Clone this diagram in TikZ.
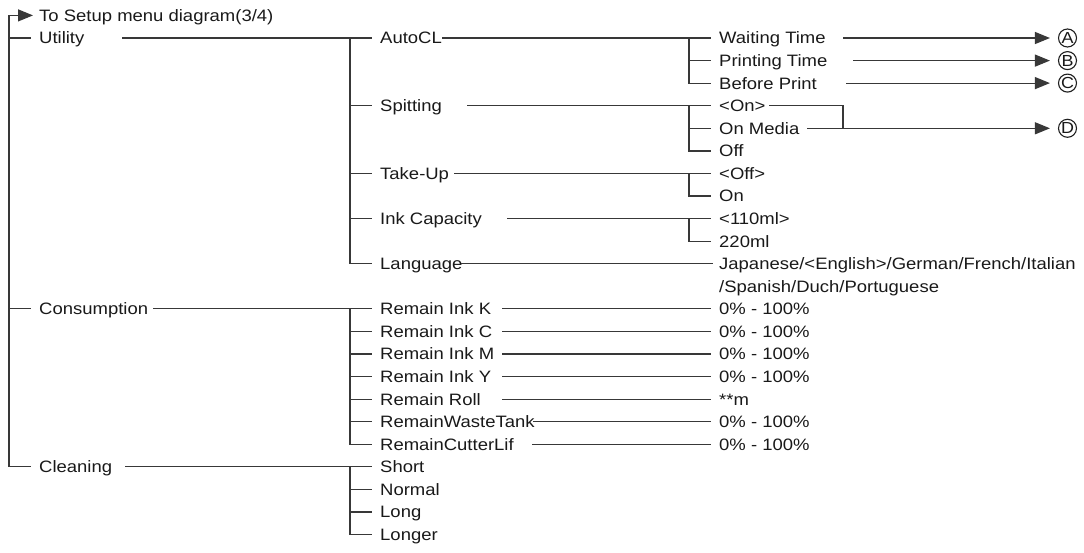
\documentclass[tikz,border=0pt]{standalone}
\usepackage{fontspec}
\setmainfont{Liberation Sans}[FakeStretch=1.12]
\usetikzlibrary{arrows.meta}
\begin{document}
\begin{tikzpicture}[x=1pt,y=-1pt,
  lbl/.style={inner sep=0pt, text height=11.8pt, text depth=0pt, anchor=west, text=black!90,
    font=\fontsize{16.5}{19}\selectfont},
  ln/.style={line width=1.2pt, draw=black!78},
  tick/.style={ln, shorten >=8pt},
  arr/.style={ln, -{Triangle[length=15pt,width=12pt]}, shorten >=8pt},
  circ/.style={circle, draw=black!88, line width=1.1pt, minimum size=18pt, inner sep=0pt,
    text=black!90, font=\fontsize{16}{16}\selectfont}]
\useasboundingbox (0,0) rectangle (1084,552);
% ---------- nodes: level 1
\node[lbl] (tosetup) at (39,15.4) {To Setup menu diagram(3/4)};
\node[lbl] (utility) at (39,38) {Utility};
\node[lbl] (consumption) at (39,308.8) {Consumption};
\node[lbl] (cleaning) at (39,466.8) {Cleaning};
% ---------- level 2
\node[lbl] (autocl) at (380,38) {AutoCL};
\node[lbl] (spitting) at (380,105.7) {Spitting};
\node[lbl] (takeup) at (380,173.4) {Take-Up};
\node[lbl] (inkcap) at (380,218.6) {Ink Capacity};
\node[lbl] (language) at (380,263.7) {Language};
\node[lbl] (rik) at (380,308.8) {Remain Ink K};
\node[lbl] (ric) at (380,331.4) {Remain Ink C};
\node[lbl] (rim) at (380,354) {Remain Ink M};
\node[lbl] (riy) at (380,376.6) {Remain Ink Y};
\node[lbl] (rroll) at (380,399.1) {Remain Roll};
\node[lbl] (rwaste) at (380,421.7) {RemainWasteTank};
\node[lbl] (rcutter) at (380,444.3) {RemainCutterLif};
\node[lbl] (short) at (380,466.8) {Short};
\node[lbl] (normal) at (380,489.4) {Normal};
\node[lbl] (long) at (380,512) {Long};
\node[lbl] (longer) at (380,534.5) {Longer};
% ---------- level 3
\node[lbl] (wait) at (719,38) {Waiting Time};
\node[lbl] (print) at (719,60.6) {Printing Time};
\node[lbl] (before) at (719,83.1) {Before Print};
\node[lbl] (on) at (719,105.7) {<On>};
\node[lbl] (onmedia) at (719,128.3) {On Media};
\node[lbl] (off) at (719,150.9) {Off};
\node[lbl] (offd) at (719,173.4) {<Off>};
\node[lbl] (onv) at (719,196) {On};
\node[lbl] (ml110) at (719,218.6) {<110ml>};
\node[lbl] (ml220) at (719,241.1) {220ml};
\node[lbl] (lang1) at (719,263.7) {Japanese/<English>/German/French/Italian};
\node[lbl] (lang2) at (719,286.3) {/Spanish/Duch/Portuguese};
\node[lbl] (v1) at (719,308.8) {0\% - 100\%};
\node[lbl] (v2) at (719,331.4) {0\% - 100\%};
\node[lbl] (v3) at (719,354) {0\% - 100\%};
\node[lbl] (v4) at (719,376.6) {0\% - 100\%};
\node[lbl] (v5) at (719,399.1) {**m};
\node[lbl] (v6) at (719,421.7) {0\% - 100\%};
\node[lbl] (v7) at (719,444.3) {0\% - 100\%};
% ---------- circled references
\node[circ] (cA) at (1067.5,38) {A};
\node[circ] (cB) at (1067.5,60.6) {B};
\node[circ] (cC) at (1067.5,83.1) {C};
\node[circ] (cD) at (1067.5,128.3) {D};
% ---------- coordinates
\coordinate (b0) at (9,15.4);
\coordinate (s-util) at (122,38);
\coordinate (j-util) at (350,38);
\coordinate (s-cons) at (153,308.8);
\coordinate (j-cons) at (350,308.8);
\coordinate (s-clean) at (125,466.8);
\coordinate (j-clean) at (350,466.8);
\coordinate (s-auto) at (442,38);
\coordinate (j-auto) at (689,38);
\coordinate (s-spit) at (467,105.7);
\coordinate (j-spit) at (689,105.7);
\coordinate (s-take) at (454,173.4);
\coordinate (j-take) at (689,173.4);
\coordinate (s-ink) at (507,218.6);
\coordinate (j-ink) at (689,218.6);
\coordinate (s-lang) at (461,263.7);
\coordinate (s-wait) at (843,38);
\coordinate (s-print) at (853,60.6);
\coordinate (s-before) at (846,83.1);
\coordinate (s-on) at (769,105.7);
\coordinate (k-on) at (843,128.3);
\coordinate (s-onm) at (807,128.3);
% ---------- level 1 bus
\draw[arr, shorten >=6pt] (b0) -- (tosetup.west);
\draw[tick] (b0) |- (cleaning.west);
\draw[tick] (b0 |- utility.west) -- (utility.west);
\draw[tick] (b0 |- consumption.west) -- (consumption.west);
% ---------- Utility
\draw[tick] (s-util) -- (autocl.west);
\draw[tick] (j-util) |- (language.west);
\foreach \n in {spitting,takeup,inkcap}
  \draw[tick] (j-util |- \n.west) -- (\n.west);
% AutoCL
\draw[tick] (s-auto) -- (wait.west);
\draw[tick] (j-auto) |- (before.west);
\draw[tick] (j-auto |- print.west) -- (print.west);
\draw[arr] (s-wait) -- (cA.west);
\draw[arr] (s-print) -- (cB.west);
\draw[arr] (s-before) -- (cC.west);
% Spitting
\draw[tick] (s-spit) -- (on.west);
\draw[tick] (j-spit) |- (off.west);
\draw[tick] (j-spit |- onmedia.west) -- (onmedia.west);
\draw[ln] (s-on) -| (k-on);
\draw[arr] (s-onm) -- (cD.west);
% Take-Up
\draw[tick] (s-take) -- (offd.west);
\draw[tick] (j-take) |- (onv.west);
% Ink capacity
\draw[tick] (s-ink) -- (ml110.west);
\draw[tick] (j-ink) |- (ml220.west);
% Language
\draw[tick, shorten >=6pt] (s-lang) -- (lang1.west);
% ---------- Consumption
\draw[tick] (s-cons) -- (rik.west);
\draw[tick] (j-cons) |- (rcutter.west);
\foreach \n in {ric,rim,riy,rroll,rwaste}
  \draw[tick] (j-cons |- \n.west) -- (\n.west);
\foreach \n/\v in {rik/v1,ric/v2,rim/v3,riy/v4,rroll/v5}
  \draw[tick] (502,0 |- \n.west) -- (\v.west);
\draw[tick] (533,0 |- rwaste.west) -- (v6.west);
\draw[tick] (532,0 |- rcutter.west) -- (v7.west);
% ---------- Cleaning
\draw[tick] (s-clean) -- (short.west);
\draw[tick] (j-clean) |- (longer.west);
\foreach \n in {normal,long}
  \draw[tick] (j-clean |- \n.west) -- (\n.west);
\end{tikzpicture}
\end{document}
